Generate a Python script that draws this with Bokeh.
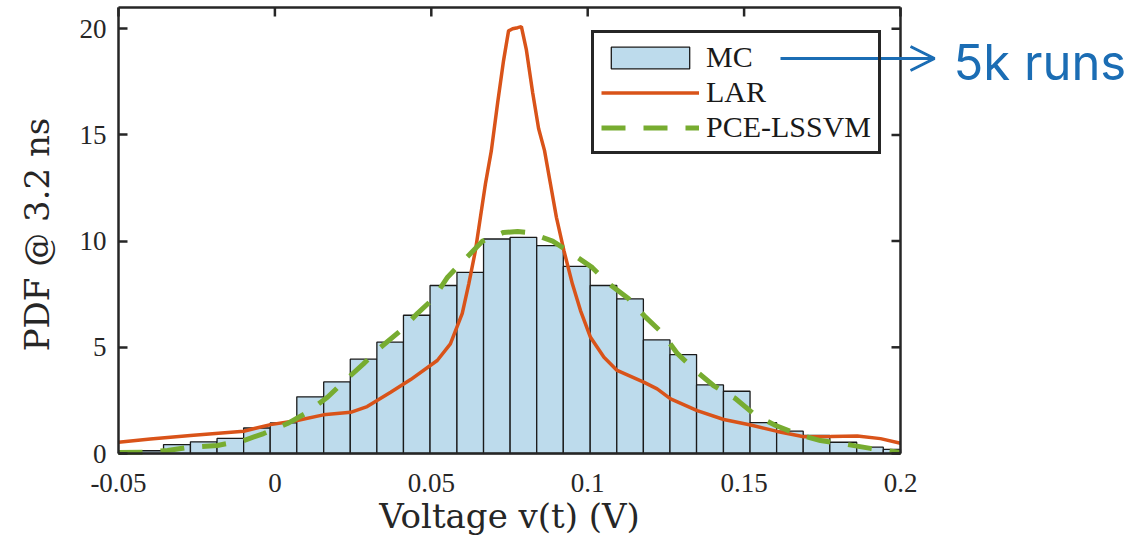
import math
from bokeh.plotting import figure
from bokeh.models import (Range1d, FixedTicker, Legend, LegendItem, Label, Arrow,
                          OpenHead)
from bokeh.embed import file_html
from bokeh.resources import INLINE

# ---- data ----
bin_edges = [-0.0526, -0.0441, -0.0356, -0.0270, -0.0185, -0.0100, -0.0015, 0.0070,
             0.0156, 0.0241, 0.0326, 0.0411, 0.0496, 0.0582, 0.0667, 0.0752,
             0.0837, 0.0922, 0.1008, 0.1093, 0.1178, 0.1263, 0.1348, 0.1434,
             0.1519, 0.1604, 0.1689, 0.1774, 0.1860, 0.1945, 0.2030]
mc_pdf = [0.08, 0.13, 0.42, 0.55, 0.71, 1.20, 1.44, 2.67, 3.37, 4.44,
          5.24, 6.51, 7.91, 8.53, 10.10, 10.18, 9.79, 8.81, 7.91, 7.28,
          5.35, 4.66, 3.23, 2.93, 1.45, 1.05, 0.85, 0.53, 0.30, 0.19]

lar_x = [-0.05, -0.0398, -0.0270, -0.0100, -0.0014, 0.0071, 0.0155, 0.0242, 0.0295,
         0.0370, 0.0434, 0.0519, 0.0561, 0.0599, 0.0620, 0.0641, 0.0657, 0.0673,
         0.0692, 0.0712, 0.0731, 0.0747, 0.0760, 0.0776, 0.0788, 0.0804, 0.0824,
         0.0843, 0.0862, 0.0881, 0.0900, 0.0924, 0.0951, 0.0977, 0.1009, 0.1052,
         0.1094, 0.1179, 0.1222, 0.1265, 0.1350, 0.1435, 0.1521, 0.1606, 0.1691,
         0.1776, 0.1862, 0.1936, 0.2000]
lar_pdf = [0.53, 0.68, 0.85, 1.05, 1.36, 1.55, 1.82, 1.94, 2.21,
           2.88, 3.48, 4.38, 5.16, 6.60, 8.00, 9.55, 11.12, 12.69,
           14.26, 16.50, 18.50, 19.90, 20.00, 20.05, 20.10, 19.00, 17.00,
           15.30, 14.26, 12.69, 11.12, 9.55, 7.99, 6.73, 5.47, 4.53,
           3.91, 3.36, 3.04, 2.57, 2.02, 1.60, 1.34, 1.04, 0.79,
           0.80, 0.82, 0.70, 0.48]

pce_x = [-0.05, -0.0420, -0.0343, -0.0270, -0.0184, -0.0100, -0.0036, 0.0040,
         0.0104, 0.0168, 0.0219, 0.0283, 0.0338, 0.0402, 0.0456, 0.0507,
         0.0552, 0.0603, 0.0664, 0.0731, 0.0776, 0.0811, 0.0888, 0.0951,
         0.1015, 0.1067, 0.1130, 0.1185, 0.1239, 0.1287, 0.1345, 0.1402,
         0.1472, 0.1537, 0.1601, 0.1674, 0.1744, 0.1831, 0.1904, 0.2000]
pce_pdf = [0.05, 0.06, 0.14, 0.30, 0.38, 0.61, 0.94, 1.41,
           1.94, 2.65, 3.36, 4.22, 5.00, 5.79, 6.60, 7.30,
           8.30, 9.08, 10.00, 10.41, 10.45, 10.40, 10.00, 9.40,
           8.75, 8.00, 7.30, 6.42, 5.67, 4.70, 3.90, 3.20,
           2.59, 1.79, 1.32, 0.89, 0.61, 0.42, 0.24, 0.05]

x_ticks = [-0.05, 0, 0.05, 0.1, 0.15, 0.2]
x_tick_labels = ["-0.05", "0", "0.05", "0.1", "0.15", "0.2"]
y_ticks = [0, 5, 10, 15, 20]
x_min, x_max = -0.05, 0.2
y_min, y_max = 0, 21

# ---- layout constants (pixels on the canvas) ----
W, H = 1130, 545
BOX_L, BOX_R, BOX_T, BOX_B = 118, 900, 7, 453
px_x = (x_max - x_min) / (BOX_R - BOX_L)   # data units per pixel
px_y = (y_max - y_min) / (BOX_B - BOX_T)
TICK = 9


def dx(px):
    return x_min + (px - BOX_L) * px_x


def dy(py):
    return y_min + (BOX_B - py) * px_y


AX = "#262626"
SERIF = "Liberation Serif"
LABEL_FONT = "DejaVu Serif"

p = figure(width=W, height=H, output_backend="svg", toolbar_location=None,
           title=None, x_range=Range1d(dx(0), dx(W)), y_range=Range1d(dy(H), dy(0)),
           min_border_left=0, min_border_right=0, min_border_top=0,
           min_border_bottom=0)
p.xgrid.visible = False
p.ygrid.visible = False
p.outline_line_color = None
p.background_fill_color = "white"
p.border_fill_color = "white"

bars = p.quad(left=[max(e, x_min) for e in bin_edges[:-1]],
              right=[min(e, x_max) for e in bin_edges[1:]],
              bottom=0, top=mc_pdf,
              fill_color="#BDDBEC", line_color="#1a1a1a", line_width=1.3)
lar = p.line(lar_x, lar_pdf, line_color="#D95319", line_width=3.5)
pce = p.line(pce_x, pce_pdf, line_color="#77AC30", line_width=5,
             line_dash="24 18")

# axes, pinned to the box
xa = p.xaxis[0]
xa.ticker = FixedTicker(ticks=x_ticks)
xa.major_label_overrides = {t: l for t, l in zip(x_ticks, x_tick_labels)}
xa.bounds = (x_min, x_max)
xa.fixed_location = y_min
ya = p.yaxis[0]
ya.ticker = FixedTicker(ticks=y_ticks)
ya.bounds = (y_min, y_max)
ya.fixed_location = x_min

for ax in (xa, ya):
    ax.axis_line_color = AX
    ax.axis_line_width = 2.5
    ax.major_tick_line_color = AX
    ax.major_tick_line_width = 2.5
    ax.minor_tick_line_color = None
    ax.major_label_text_font = SERIF
    ax.major_label_text_font_size = "27px"
    ax.major_label_text_color = AX

xa.major_tick_in = 0
xa.major_tick_out = 0
xa.major_label_standoff = 20
ya.major_tick_in = TICK
ya.major_tick_out = 0
ya.major_label_standoff = 12

# box: right and top edges with inward ticks
p.segment(x0=[x_max], y0=[y_min], x1=[x_max], y1=[y_max], line_color=AX, line_width=2.5)
p.segment(x0=[x_min], y0=[y_max], x1=[x_max], y1=[y_max], line_color=AX, line_width=2.5)
p.segment(x0=[x_max] * len(y_ticks), y0=y_ticks,
          x1=[x_max - TICK * px_x] * len(y_ticks), y1=y_ticks,
          line_color=AX, line_width=2.5)
p.segment(x0=x_ticks, y0=[y_max] * len(x_ticks),
          x1=x_ticks, y1=[y_max - TICK * px_y] * len(x_ticks),
          line_color=AX, line_width=2.5)

# axis titles
p.add_layout(Label(x=(x_min + x_max) / 2, y=dy(515), text="Voltage v(t) (V)",
                   text_align="center", text_baseline="middle",
                   text_font=LABEL_FONT, text_font_size="34px", text_color=AX))
p.add_layout(Label(x=dx(36), y=dy(234), text="PDF @ 3.2 ns", angle=math.pi / 2,
                   text_align="center", text_baseline="middle",
                   text_font=LABEL_FONT, text_font_size="34px", text_color=AX))

legend = Legend(items=[LegendItem(label="MC", renderers=[bars]),
                       LegendItem(label="LAR", renderers=[lar]),
                       LegendItem(label="PCE-LSSVM", renderers=[pce])],
                location=(591, H - 154), orientation="vertical",
                border_line_color=AX, border_line_width=3, border_line_alpha=1.0,
                background_fill_color="white", background_fill_alpha=0.0,
                padding=7, spacing=1, margin=0,
                glyph_width=98, glyph_height=27,
                label_width=165, label_standoff=7,
                label_text_font=SERIF, label_text_font_size="30px",
                label_text_color="#1a1a1a")
p.add_layout(legend)

BLUE = "#1B6DB4"
arrow = Arrow(end=OpenHead(size=24, line_color=BLUE, line_width=3),
              x_start=dx(780), y_start=dy(58), x_end=dx(934), y_end=dy(58),
              line_color=BLUE, line_width=3, level="overlay")
p.add_layout(arrow)
p.add_layout(Label(x=dx(953), y=dy(62), text="5k runs", text_baseline="middle",
                   text_align="left", text_font="Inter", text_font_size="49px",
                   text_color=BLUE, level="overlay"))

open("out.html", "w").write(file_html(p, INLINE))
